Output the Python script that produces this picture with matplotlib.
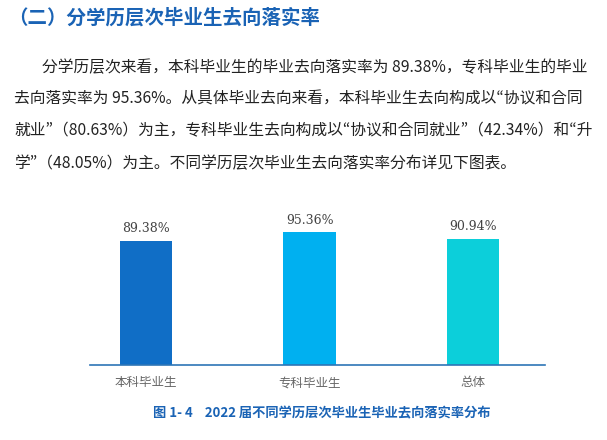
import matplotlib
matplotlib.use("Agg")
import matplotlib.pyplot as plt

categories = ["本科毕业生", "专科毕业生", "总体"]
values = [89.38, 95.36, 90.94]
labels = ["89.38%", "95.36%", "90.94%"]
colors = ["#106EC6", "#00B0F0", "#0CCFDA"]

plt.rcParams["font.family"] = ["Noto Sans CJK JP", "Noto Sans CJK SC", "DejaVu Sans"]
W, H = 607, 440
fig = plt.figure(figsize=(W/100, H/100), dpi=100)

def fx(x): return x / W
def fy(y): return 1 - y / H

fig.text(fx(8), fy(18), "（二）分学历层次毕业生去向落实率", fontsize=14, fontweight="bold",
         color="#1A63B5", va="center")
lines = [
    (42, 68, "分学历层次来看，本科毕业生的毕业去向落实率为 89.38%，专科毕业生的毕业"),
    (14, 99, "去向落实率为 95.36%。从具体毕业去向来看，本科毕业生去向构成以“协议和合同"),
    (14, 131, "就业”（80.63%）为主，专科毕业生去向构成以“协议和合同就业”（42.34%）和“升"),
    (14, 164, "学”（48.05%）为主。不同学历层次毕业生去向落实率分布详见下图表。"),
]
for x, y, t in lines:
    fig.text(fx(x), fy(y), t, fontsize=11.3, color="#222222", va="center")

ax = fig.add_axes([fx(90), 75/H, (545-90)/W, 165/H])
xs = range(len(categories))
ax.bar(xs, values, width=0.32, color=colors)
for i, (v, l) in enumerate(zip(values, labels)):
    ax.text(i, v + 4, l, ha="center", va="bottom", fontsize=9, color="#444444", family="DejaVu Serif")
ax.set_xlim(-0.343, 2.44)
ax.set_ylim(0, 118.7)
ax.set_xticks(list(xs))
ax.set_xticklabels(categories, fontsize=9, color="#666666")
ax.tick_params(axis="x", length=0, pad=8)
ax.set_yticks([])
for s in ["top", "left", "right"]:
    ax.spines[s].set_visible(False)
ax.spines["bottom"].set_color("#2E75B6")
ax.spines["bottom"].set_linewidth(1.2)

fig.text(fx(322), fy(413), "图 1- 4    2022 届不同学历层次毕业生毕业去向落实率分布", fontsize=9.5,
         fontweight="bold", color="#1A63B5", ha="center", va="center")
fig.savefig("out.png", dpi=100)
